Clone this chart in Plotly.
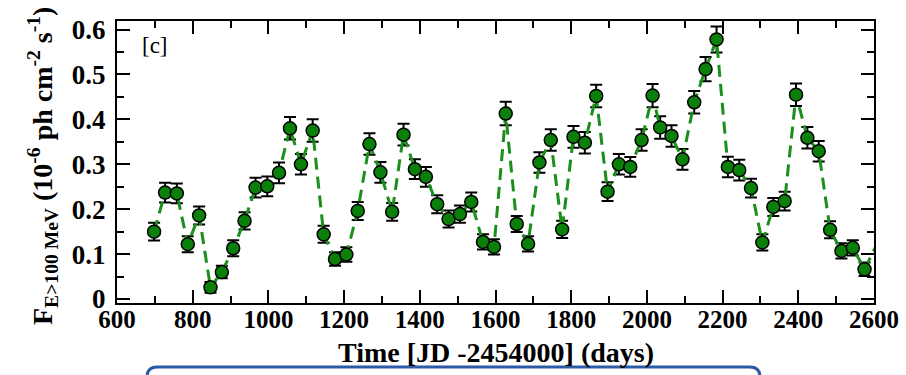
import plotly.graph_objects as go

# Time [JD - 2454000] (days)
time_days = [698, 727, 758, 787, 817, 847, 877, 907, 937, 966,
             997, 1028, 1057, 1086, 1117, 1146, 1176, 1206, 1236, 1267,
             1296, 1327, 1357, 1387, 1416, 1446, 1476, 1506, 1536, 1567,
             1596, 1627, 1656, 1686, 1716, 1746, 1776, 1806, 1836, 1866,
             1896, 1926, 1956, 1986, 2015, 2035, 2065, 2094, 2125, 2155,
             2184, 2214, 2244, 2275, 2305, 2334, 2364, 2394, 2424, 2454,
             2484, 2514, 2544, 2575, 2625]

# Flux E>100 MeV (1e-6 ph cm^-2 s^-1)
flux = [0.150, 0.237, 0.235, 0.122, 0.186, 0.026, 0.060, 0.113, 0.174, 0.248,
        0.251, 0.281, 0.380, 0.300, 0.375, 0.144, 0.089, 0.099, 0.196, 0.345,
        0.282, 0.194, 0.366, 0.289, 0.272, 0.211, 0.178, 0.189, 0.216, 0.127,
        0.116, 0.413, 0.167, 0.123, 0.304, 0.354, 0.155, 0.361, 0.348, 0.452,
        0.239, 0.300, 0.294, 0.354, 0.453, 0.382, 0.363, 0.311, 0.438, 0.512,
        0.578, 0.294, 0.287, 0.247, 0.126, 0.205, 0.218, 0.455, 0.359, 0.329,
        0.154, 0.107, 0.114, 0.066, 0.152]

flux_err = [0.020, 0.022, 0.022, 0.018, 0.020, 0.012, 0.014, 0.018, 0.019, 0.022,
            0.022, 0.023, 0.025, 0.023, 0.025, 0.019, 0.015, 0.016, 0.020, 0.024,
            0.023, 0.020, 0.024, 0.022, 0.022, 0.020, 0.019, 0.019, 0.021, 0.017,
            0.017, 0.026, 0.018, 0.017, 0.023, 0.024, 0.019, 0.024, 0.024, 0.025,
            0.021, 0.023, 0.022, 0.024, 0.026, 0.025, 0.024, 0.023, 0.025, 0.027,
            0.029, 0.023, 0.023, 0.021, 0.018, 0.020, 0.021, 0.025, 0.024, 0.023,
            0.019, 0.017, 0.017, 0.015, 0.018]

x_ticks = [600, 800, 1000, 1200, 1400, 1600, 1800, 2000, 2200, 2400, 2600]
y_ticks = [0, 0.1, 0.2, 0.3, 0.4, 0.5, 0.6]
y_tick_text = ["0", "0.1", "0.2", "0.3", "0.4", "0.5", "0.6"]

SERIF = "Liberation Serif, Times New Roman, serif"

fig = go.Figure()
fig.add_trace(go.Scatter(
    x=time_days, y=flux,
    mode="lines+markers",
    line=dict(color="#1a8f1a", width=3, dash="12px,7px"),
    marker=dict(size=13, color="#0a800a", line=dict(color="black", width=1.5)),
    error_y=dict(type="data", array=flux_err, visible=True,
                 color="black", thickness=2, width=6),
    showlegend=False,
))

axis_common = dict(
    showline=True, linecolor="black", linewidth=2, mirror="allticks",
    ticks="inside", ticklen=13, tickwidth=1.5, tickcolor="black",
    showgrid=False, zeroline=False,
)

fig.update_xaxes(range=[600, 2600], tickvals=x_ticks,
                 tickfont=dict(family=SERIF, size=25, color="black", weight="bold"),
                 ticklabelstandoff=-7,
                 minor=dict(ticks="inside", ticklen=7, dtick=100, tick0=600,
                            tickcolor="black", tickwidth=1.5, showgrid=False),
                 **axis_common)
fig.update_yaxes(range=[-0.0089, 0.619], tickvals=y_ticks, ticktext=y_tick_text,
                 tickfont=dict(family=SERIF, size=27, color="black", weight="bold"),
                 ticklabelstandoff=4,
                 minor=dict(ticks="inside", ticklen=7, dtick=0.05, tick0=0,
                            tickcolor="black", tickwidth=1.5, showgrid=False),
                 **axis_common)

L, R, T, B = 117, 32, 21, 72
W, H = 906, 375
pw, ph = W - L - R, H - T - B

def px(xp):
    return (xp - L) / pw

def py(yp):
    return (H - B - yp) / ph

fig.add_annotation(text="[c]", x=px(155), y=py(45), xref="paper", yref="paper",
                   showarrow=False, xanchor="center", yanchor="middle",
                   font=dict(family=SERIF, size=23, color="black"))
fig.add_annotation(text="Time [JD -2454000] (days)", x=px(496), y=py(352),
                   xref="paper", yref="paper", showarrow=False,
                   xanchor="center", yanchor="middle",
                   font=dict(family=SERIF, size=28, color="black", weight="bold"))
fig.add_annotation(text="F<sub>E&gt;100 MeV</sub> (10<sup>-6</sup> ph cm<sup>-2</sup> s<sup>-1</sup>)",
                   x=px(42), y=py(166), xref="paper", yref="paper", showarrow=False,
                   textangle=-90, xanchor="center", yanchor="middle",
                   font=dict(family=SERIF, size=28, color="black", weight="bold"))

# bottom rounded box (UI artifact in the reference image)
x0, x1, y0, y1, r = px(147), px(760), py(367), py(385), 10
rx, ry = r / pw, r / ph
path = (f"M {x0},{y1} L {x0},{y0 - ry} Q {x0},{y0} {x0 + rx},{y0} "
        f"L {x1 - rx},{y0} Q {x1},{y0} {x1},{y0 - ry} L {x1},{y1}")
fig.add_shape(type="path", path=path, xref="paper", yref="paper",
              line=dict(color="#2d5aa6", width=3))

fig.update_layout(
    width=W, height=H,
    margin=dict(l=L, r=R, t=T, b=B, autoexpand=False),
    paper_bgcolor="white", plot_bgcolor="white",
)

fig.write_html("out.html")
